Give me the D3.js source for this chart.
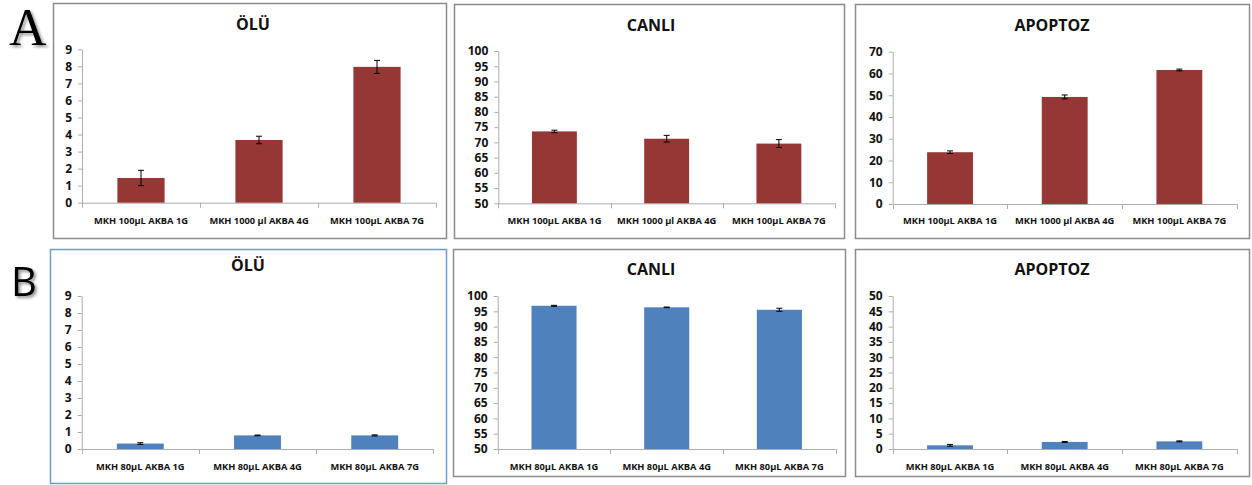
<!DOCTYPE html>
<html>
<head>
<meta charset="utf-8">
<script src="https://cdn.jsdelivr.net/npm/d3@7"></script>
<style>
  html, body { margin: 0; padding: 0; background: #fff; }
  svg { display: block; font-family: "Open Sans", "DejaVu Sans", sans-serif; }
</style>
</head>
<body>
<svg id="chart" width="1252" height="485"></svg>
<script>
// Group labels
const categoriesA = ["MKH 100µL AKBA 1G", "MKH 1000 µl AKBA 4G", "MKH 100µL AKBA 7G"];
const categoriesB = ["MKH 80µL AKBA 1G", "MKH 80µL AKBA 4G", "MKH 80µL AKBA 7G"];

// Row A: means and error (±)
const oluA = [1.45, 3.68, 7.97];
const oluAErr = [0.45, 0.22, 0.38];
const canliA = [73.6, 71.2, 69.6];
const canliAErr = [0.4, 1.1, 1.3];
const apoptozA = [23.8, 49.2, 61.6];
const apoptozAErr = [0.6, 0.9, 0.4];

// Row B: means and error (±)
const oluB = [0.32, 0.8, 0.8];
const oluBErr = [0.05, 0.02, 0.03];
const canliB = [96.8, 96.3, 95.5];
const canliBErr = [0.15, 0.1, 0.5];
const apoptozB = [1.2, 2.3, 2.5];
const apoptozBErr = [0.3, 0.15, 0.15];

// Y-axis tick values
const ticksOlu = d3.range(0, 10, 1);
const ticksCanli = d3.range(50, 101, 5);
const ticksApoptozA = d3.range(0, 71, 10);
const ticksApoptozB = d3.range(0, 51, 5);

const RED = "#953735";
const BLUE = "#4f81bd";
const SANS = "'Open Sans', 'DejaVu Sans', sans-serif";

const svg = d3.select("#chart");

// soft drop shadow for the row letters
const defs = svg.append("defs");
const f = defs.append("filter").attr("id", "shadow")
  .attr("x", "-20%").attr("y", "-20%").attr("width", "150%").attr("height", "150%");
f.append("feDropShadow").attr("dx", 2).attr("dy", 2)
  .attr("stdDeviation", 1.4).attr("flood-color", "#000").attr("flood-opacity", 0.45);

function drawPanel(cfg) {
  const g = svg.append("g");

  // frame
  g.append("rect")
    .attr("x", cfg.box[0] + 0.5).attr("y", cfg.box[1] + 0.5)
    .attr("width", cfg.box[2] - cfg.box[0]).attr("height", cfg.box[3] - cfg.box[1])
    .attr("fill", "#fff")
    .attr("stroke", cfg.frame).attr("stroke-width", 1.5);

  // title
  g.append("text")
    .attr("x", cfg.titleX).attr("y", cfg.titleY)
    .attr("text-anchor", "middle")
    .style("font-family", SANS)
    .style("font-size", "16px").style("font-weight", 700).attr("fill", "#111")
    .text(cfg.title);

  const x = d3.scaleBand()
    .domain(cfg.categories)
    .range([cfg.plot.x0, cfg.plot.x1])
    .paddingInner(0.6).paddingOuter(0.3);

  const y = d3.scaleLinear()
    .domain([cfg.ticks[0], cfg.ticks[cfg.ticks.length - 1]])
    .range([cfg.plot.y0, cfg.plot.y1]);

  // y axis
  const yAxis = g.append("g")
    .attr("transform", `translate(${cfg.plot.x0},0)`)
    .call(d3.axisLeft(y).tickValues(cfg.ticks).tickSize(4).tickSizeOuter(0).tickPadding(6));
  yAxis.select(".domain").attr("stroke", "#adadad");
  yAxis.selectAll(".tick line").attr("stroke", "#adadad");
  yAxis.selectAll(".tick text")
    .style("font-family", SANS)
    .style("font-size", "12px").style("font-weight", 700).attr("fill", "#111");

  // x axis: line with ticks at the band boundaries
  const xg = g.append("g");
  xg.append("line")
    .attr("x1", cfg.plot.x0).attr("x2", cfg.plot.x1)
    .attr("y1", cfg.plot.y0 + 0.5).attr("y2", cfg.plot.y0 + 0.5)
    .attr("stroke", "#adadad");
  const step = x.step();
  const bounds = d3.range(cfg.categories.length + 1)
    .map(i => cfg.plot.x0 + i * step);
  xg.selectAll("line.bt").data(bounds).join("line").attr("class", "bt")
    .attr("x1", d => Math.round(d) + 0.5).attr("x2", d => Math.round(d) + 0.5)
    .attr("y1", cfg.plot.y0).attr("y2", cfg.plot.y0 + 5)
    .attr("stroke", "#adadad");
  xg.selectAll("text").data(cfg.categories).join("text")
    .attr("x", d => x(d) + x.bandwidth() / 2)
    .attr("y", cfg.labelY)
    .attr("text-anchor", "middle")
    .style("font-family", SANS)
    .style("font-size", "9.3px").style("font-weight", 700).attr("fill", "#111")
    .text(d => d);

  // bars
  const rows = cfg.categories.map((c, i) => ({ c, v: cfg.values[i], e: cfg.errors[i] }));
  g.append("g").selectAll("rect").data(rows).join("rect")
    .attr("x", d => x(d.c))
    .attr("width", x.bandwidth())
    .attr("y", d => y(d.v))
    .attr("height", d => y(cfg.ticks[0]) - y(d.v))
    .attr("fill", cfg.color);

  // error bars
  const eg = g.append("g").attr("stroke", "#000").attr("stroke-width", 1);
  rows.forEach(d => {
    const cx = x(d.c) + x.bandwidth() / 2;
    const top = y(d.v + d.e), bot = y(d.v - d.e);
    eg.append("line").attr("x1", cx).attr("x2", cx).attr("y1", top).attr("y2", bot);
    eg.append("line").attr("x1", cx - 3).attr("x2", cx + 3).attr("y1", top).attr("y2", top);
    eg.append("line").attr("x1", cx - 3).attr("x2", cx + 3).attr("y1", bot).attr("y2", bot);
  });
}

// Row A
drawPanel({
  box: [53, 3, 446, 238], frame: "#8c8c8c", title: "ÖLÜ", titleX: 253, titleY: 30,
  plot: { x0: 82, x1: 436, y0: 202.7, y1: 49.3 }, labelY: 224,
  categories: categoriesA, values: oluA, errors: oluAErr, ticks: ticksOlu, color: RED
});
drawPanel({
  box: [454, 4, 844, 238], frame: "#8c8c8c", title: "CANLI", titleX: 651, titleY: 31,
  plot: { x0: 498.3, x1: 835, y0: 203.3, y1: 51 }, labelY: 224,
  categories: categoriesA, values: canliA, errors: canliAErr, ticks: ticksCanli, color: RED
});
drawPanel({
  box: [855, 4, 1249, 238], frame: "#8c8c8c", title: "APOPTOZ", titleX: 1052, titleY: 31,
  plot: { x0: 892.7, x1: 1236.7, y0: 204, y1: 51.7 }, labelY: 224,
  categories: categoriesA, values: apoptozA, errors: apoptozAErr, ticks: ticksApoptozA, color: RED
});

// Row B
drawPanel({
  box: [50, 249, 446, 483], frame: "#6f9bd1", title: "ÖLÜ", titleX: 248, titleY: 271,
  plot: { x0: 81.7, x1: 433.3, y0: 449, y1: 296 }, labelY: 470,
  categories: categoriesB, values: oluB, errors: oluBErr, ticks: ticksOlu, color: BLUE
});
drawPanel({
  box: [453, 249, 845, 476], frame: "#8c8c8c", title: "CANLI", titleX: 651, titleY: 275,
  plot: { x0: 497.7, x1: 835.7, y0: 449, y1: 296 }, labelY: 470,
  categories: categoriesB, values: canliB, errors: canliBErr, ticks: ticksCanli, color: BLUE
});
drawPanel({
  box: [855, 249, 1249, 476], frame: "#8c8c8c", title: "APOPTOZ", titleX: 1052, titleY: 275,
  plot: { x0: 892.7, x1: 1236.7, y0: 449, y1: 296 }, labelY: 470,
  categories: categoriesB, values: apoptozB, errors: apoptozBErr, ticks: ticksApoptozB, color: BLUE
});

// Row letters
svg.append("text")
  .attr("x", 9).attr("y", 45)
  .style("font-family", "'Liberation Serif', 'Times New Roman', serif")
  .style("font-size", "52px").attr("fill", "#000")
  .attr("filter", "url(#shadow)")
  .text("A");
svg.append("text")
  .attr("x", 11).attr("y", 296)
  .style("font-family", SANS)
  .style("font-size", "40px").attr("fill", "#000")
  .attr("filter", "url(#shadow)")
  .text("B");
</script>
</body>
</html>
